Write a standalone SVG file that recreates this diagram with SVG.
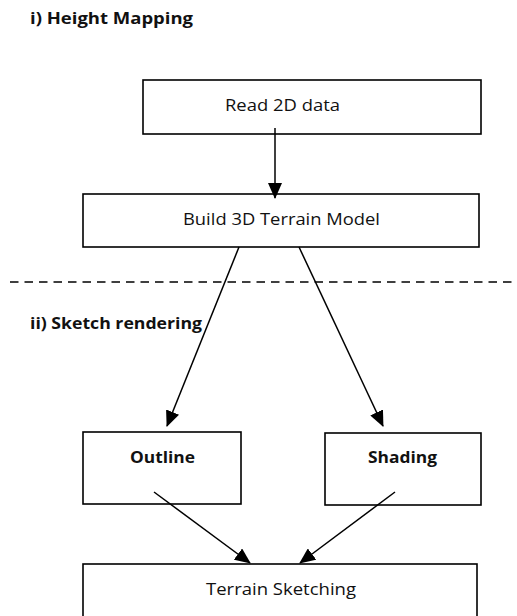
<svg xmlns="http://www.w3.org/2000/svg" width="517" height="616" viewBox="0 0 517 616">
<style>
.box{fill:#fff;stroke:#000;stroke-width:1.6}
.t{font-family:"Open Sans","Liberation Sans",Arial,sans-serif;font-size:16.5px;fill:#111}
.b{font-weight:bold}
.c{stroke:#000;stroke-width:1.5;fill:none;marker-end:url(#ah)}
</style>
<defs>
<marker id="ah" markerWidth="16" markerHeight="14" refX="15" refY="7" orient="auto" markerUnits="userSpaceOnUse">
<path d="M0,0 L16,7 L0,14 Z" fill="#000"/>
</marker>
</defs>
<rect width="517" height="616" fill="#fff"/>
<text class="t b" x="30" y="24" textLength="163" lengthAdjust="spacingAndGlyphs">i)  Height Mapping</text>
<text class="t b" x="30" y="329" textLength="172" lengthAdjust="spacingAndGlyphs">ii) Sketch rendering</text>
<line x1="10" y1="282" x2="517" y2="282" stroke="#000" stroke-width="1.5" stroke-dasharray="8.5,6"/>
<g id="read2d">
<rect class="box" x="143" y="80" width="338" height="54"/>
<text class="t" x="225" y="111" textLength="115" lengthAdjust="spacingAndGlyphs">Read 2D data</text>
</g>
<g id="build3d">
<rect class="box" x="83" y="194" width="396" height="53"/>
<text class="t" x="183" y="225" textLength="197" lengthAdjust="spacingAndGlyphs">Build 3D Terrain Model</text>
</g>
<g id="outline">
<rect class="box" x="83" y="432" width="158" height="72"/>
<text class="t b" x="130" y="463" textLength="65" lengthAdjust="spacingAndGlyphs">Outline</text>
</g>
<g id="shading">
<rect class="box" x="325" y="433" width="156" height="72"/>
<text class="t b" x="368" y="463" textLength="69" lengthAdjust="spacingAndGlyphs">Shading</text>
</g>
<g id="sketching">
<rect class="box" x="83" y="564" width="394" height="56"/>
<text class="t" x="206" y="595" textLength="150" lengthAdjust="spacingAndGlyphs">Terrain Sketching</text>
</g>
<g id="connectors">
<line class="c" x1="275" y1="128" x2="275" y2="198"/>
<line class="c" x1="239" y1="247" x2="167" y2="426"/>
<line class="c" x1="299" y1="247" x2="383" y2="426"/>
<line class="c" x1="154" y1="492" x2="250" y2="563"/>
<line class="c" x1="395" y1="492" x2="300" y2="563"/>
</g>
</svg>
